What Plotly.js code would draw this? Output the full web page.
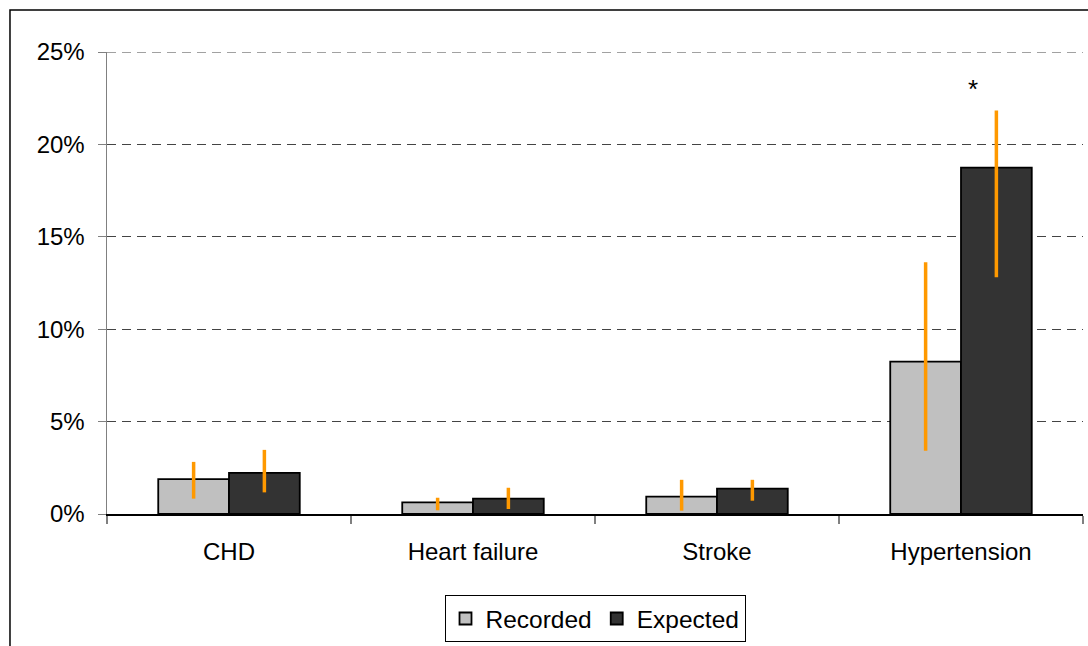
<!DOCTYPE html>
<html>
<head>
<meta charset="utf-8">
<script src="https://cdn.plot.ly/plotly-3.0.1.min.js"></script>
<style>html,body{margin:0;padding:0;background:#fff;}#chart{width:1088px;height:646px;}</style>
</head>
<body>
<div id="chart"></div>
<script>
const categories = ["CHD", "Heart failure", "Stroke", "Hypertension"];
const recordedValues = [1.89, 0.63, 0.94, 8.24];
const recordedLower = [0.83, 0.20, 0.18, 3.42];
const recordedUpper = [2.82, 0.88, 1.85, 13.62];
const expectedValues = [2.23, 0.83, 1.37, 18.74];
const expectedLower = [1.17, 0.27, 0.72, 12.81];
const expectedUpper = [3.47, 1.42, 1.85, 21.83];
const yTickValues = [0, 5, 10, 15, 20, 25];
const yTickLabels = ["0%", "5%", "10%", "15%", "20%", "25%"];
const yMax = 25;

function errBar(vals, lo, hi) {
  return {
    type: 'data', symmetric: false,
    array: hi.map((h, i) => h - vals[i]),
    arrayminus: lo.map((l, i) => vals[i] - l),
    color: '#FF9900', thickness: 3.5, width: 0, visible: true
  };
}

const font = {family: '"Liberation Sans", Arial, sans-serif', color: '#000'};

const traces = [
  {type: 'bar', name: 'Recorded', x: categories, y: recordedValues,
   marker: {color: '#C0C0C0', line: {color: '#000', width: 1.8}},
   error_y: errBar(recordedValues, recordedLower, recordedUpper)},
  {type: 'bar', name: 'Expected', x: categories, y: expectedValues,
   marker: {color: '#333333', line: {color: '#000', width: 1.8}},
   error_y: errBar(expectedValues, expectedLower, expectedUpper)}
];

const layout = {
  width: 1088, height: 646,
  margin: {l: 107, r: 5, t: 52, b: 131},
  paper_bgcolor: '#fff', plot_bgcolor: '#fff',
  font: Object.assign({size: 24}, font),
  barmode: 'group', bargap: 0.42, bargroupgap: 0,
  showlegend: true,
  legend: {orientation: 'h', x: 0.5, xanchor: 'center', y: -0.173, yanchor: 'top',
           bordercolor: '#000', borderwidth: 1, font: Object.assign({size: 24.5}, font),
           itemwidth: 30, traceorder: 'normal'},
  xaxis: {type: 'category', tickson: 'boundaries', ticks: 'outside', ticklen: 8,
          tickcolor: '#808080', tickwidth: 1.5, showline: true, linecolor: '#000', linewidth: 1.5,
          showgrid: false, tickfont: Object.assign({size: 24}, font), ticklabelstandoff: 16},
  yaxis: {range: [0, yMax], tickvals: yTickValues, ticktext: yTickLabels,
          ticks: 'outside', ticklen: 8, tickcolor: '#808080', showline: true, linecolor: '#808080',
          linewidth: 1.5, showgrid: true, gridcolor: '#444', griddash: '9px,6px', gridwidth: 1,
          zeroline: false, tickfont: Object.assign({size: 24}, font), ticklabelstandoff: 8,
          fixedrange: true},
  annotations: [
    {x: 'Hypertension', y: 23.0, xref: 'x', yref: 'y', text: '*', showarrow: false,
     xshift: 12, font: Object.assign({size: 26}, font)}
  ],
  shapes: [
    {type: 'rect', xref: 'paper', yref: 'paper', x0: -0.0994, x1: 1.02, y0: -0.33, y1: 1.0907,
     line: {color: '#000', width: 1.5}, fillcolor: 'rgba(0,0,0,0)', layer: 'below'},
    {type: 'line', xref: 'paper', yref: 'y', x0: 0, x1: 1, y0: yMax, y1: yMax,
     line: {color: '#444', width: 1, dash: '9px,6px'}, layer: 'below'}
  ]
};

Plotly.newPlot('chart', traces, layout, {staticPlot: true});
</script>
</body>
</html>
